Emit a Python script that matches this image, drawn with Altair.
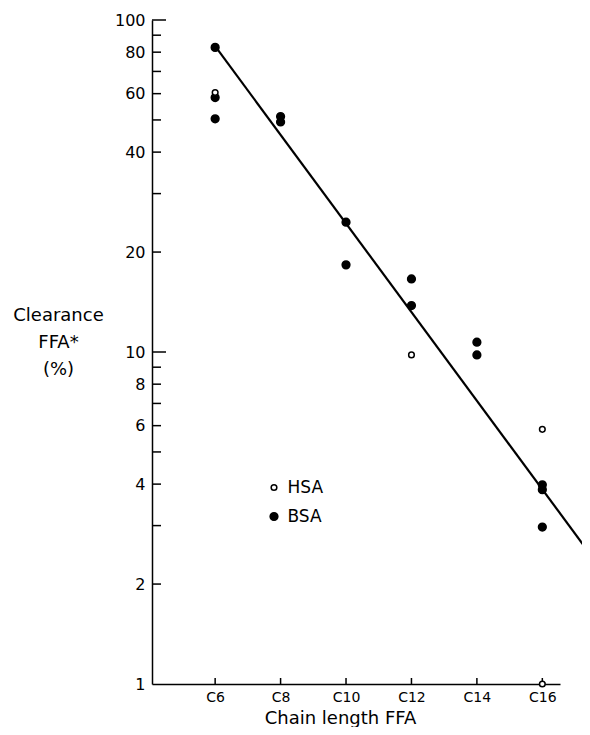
import altair as alt
import pandas as pd

FONT = "DejaVu Sans"

# x axis (chain length, carbons)
x_domain = [4.07, 16.54]
chain_ticks = [6, 8, 10, 12, 14, 16]

# y axis (log scale, %)
y_domain = [1, 100]
y_labels = [1, 2, 4, 6, 8, 10, 20, 40, 60, 80, 100]
y_major_ticks = [10, 100]
y_minor_ticks = [2, 3, 4, 5, 6, 7, 8, 9, 20, 30, 40, 50, 60, 70, 80, 90]

# data points
bsa_x = [6, 6, 6, 8, 8, 10, 10, 12, 12, 14, 14, 16, 16, 16]
bsa_y = [82.7, 58.4, 50.4, 51.2, 49.3, 24.6, 18.3, 16.6, 13.8, 10.7, 9.8, 3.98, 3.85, 2.97]
hsa_x = [6, 12, 16, 16]
hsa_y = [60.5, 9.8, 5.85, 1.0]

# fitted regression line (end points)
fit_x = [6, 17.45]
fit_y = [83.4, 2.47]

series = ["HSA", "BSA"]

pts = pd.DataFrame({
    "x": bsa_x + hsa_x,
    "y": bsa_y + hsa_y,
    "s": ["BSA"] * len(bsa_x) + ["HSA"] * len(hsa_x),
})
fit = pd.DataFrame({"x": fit_x, "y": fit_y})

xscale = alt.Scale(domain=x_domain, nice=False, zero=False)
yscale = alt.Scale(type="log", domain=y_domain, nice=False)

x_axis = alt.Axis(
    values=chain_ticks, labelExpr="'C' + datum.value", ticks=False, tickSize=0,
    grid=False, domainColor="black", domainWidth=1.5,
    labelFont=FONT, labelFontSize=14, labelColor="black", labelPadding=6,
    title="Chain length FFA", titleFont=FONT, titleFontSize=18,
    titleFontWeight="normal", titleColor="black",
    titleX=188, titleY=39, titleAlign="center", titleBaseline="alphabetic",
)
y_axis = alt.Axis(
    values=y_labels, format="d", ticks=False, tickSize=0, grid=False,
    domainColor="black", domainWidth=1.5,
    labelFont=FONT, labelFontSize=16, labelColor="black", labelPadding=7,
    title=["Clearance", "FFA*", "(%)"], titleFont=FONT, titleFontSize=18,
    titleFontWeight="normal", titleColor="black", titleAngle=0,
    titleX=-94, titleY=286, titleAlign="center", titleBaseline="top",
    titleLineHeight=27,
)

legend_kw = dict(
    title=None, orient="none", legendX=113.5, legendY=459, padding=0,
    labelFont=FONT, labelFontSize=17, labelColor="black", rowPadding=11,
    labelOffset=5, symbolStrokeWidth=1.5, symbolType="circle",
)

line = alt.Chart(fit).mark_line(color="black", strokeWidth=2.2, clip=False).encode(
    x=alt.X("x:Q", scale=xscale, axis=x_axis),
    y=alt.Y("y:Q", scale=yscale, axis=y_axis),
)

points = alt.Chart(pts).mark_point(
    shape="circle", filled=True, strokeWidth=1.5, opacity=1
).encode(
    x=alt.X("x:Q", scale=xscale),
    y=alt.Y("y:Q", scale=yscale),
    fill=alt.Fill("s:N", scale=alt.Scale(domain=series, range=["white", "black"]),
                  legend=alt.Legend(**legend_kw)),
    stroke=alt.Stroke("s:N", scale=alt.Scale(domain=series, range=["black", "black"]),
                      legend=alt.Legend(**legend_kw)),
    size=alt.Size("s:N", scale=alt.Scale(domain=series, range=[32, 60]),
                  legend=alt.Legend(**legend_kw)),
)

minor = alt.Chart(pd.DataFrame({"y": y_minor_ticks})).mark_rule(
    color="black", strokeWidth=1.5).encode(
    y=alt.Y("y:Q", scale=yscale), x=alt.value(0), x2=alt.value(9))
major = alt.Chart(pd.DataFrame({"y": y_major_ticks})).mark_rule(
    color="black", strokeWidth=1.5).encode(
    y=alt.Y("y:Q", scale=yscale), x=alt.value(0), x2=alt.value(14))
xticks = alt.Chart(pd.DataFrame({"x": chain_ticks})).mark_rule(
    color="black", strokeWidth=1.5).encode(
    x=alt.X("x:Q", scale=xscale), y=alt.value(664), y2=alt.value(658))

chart = alt.layer(line, minor, major, xticks, points).properties(
    width=408, height=664,
    padding={"left": 144, "top": 12, "right": 22, "bottom": 43},
    autosize=alt.AutoSizeParams(type="none"),
).configure_view(strokeWidth=0)

chart.save("out.html", embed_options={"renderer": "svg", "actions": False})
